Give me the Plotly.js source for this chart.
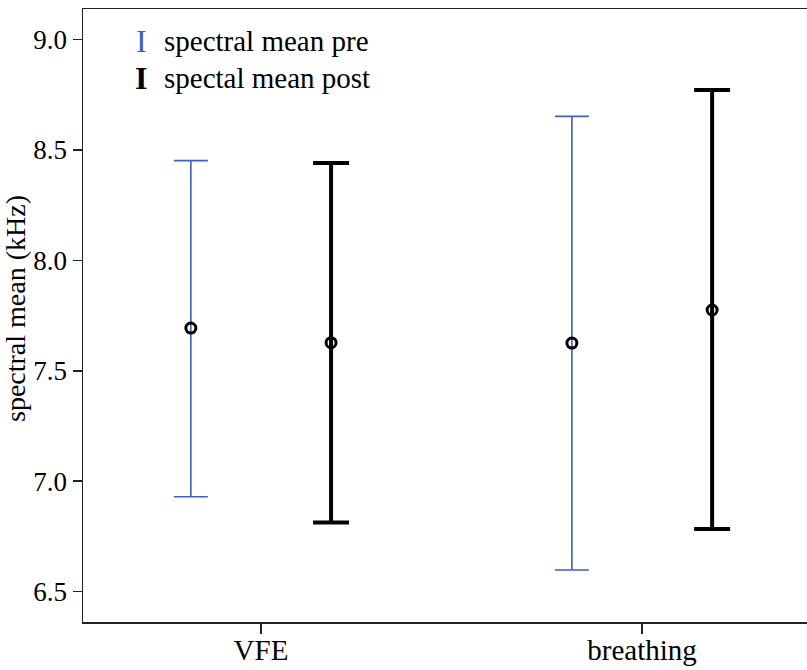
<!DOCTYPE html>
<html>
<head>
<meta charset="utf-8">
<script src="https://cdn.plot.ly/plotly-3.0.1.min.js"></script>
<style>html,body{margin:0;padding:0;background:#fff;}#chart{width:807px;height:670px;}</style>
</head>
<body>
<div id="chart"></div>
<script>
const categories = ["VFE", "breathing"];
const preMean  = [7.693, 7.625];
const preLow   = [6.930, 6.598];
const preHigh  = [8.451, 8.651];
const postMean = [7.627, 7.775];
const postLow  = [6.813, 6.784];
const postHigh = [8.440, 8.770];
const yTicks = [6.5, 7.0, 7.5, 8.0, 8.5, 9.0];
const seriesNames = ["spectral mean pre", "spectal mean post"];

const FONT = "'Liberation Serif', 'Times New Roman', Times, serif";
const BLUE = "#3f5fbf";

function up(m, h) { return h.map((v, i) => v - m[i]); }
function down(m, l) { return l.map((v, i) => m[i] - v); }

const traces = [
  {
    type: "scatter", mode: "markers", name: seriesNames[0], showlegend: false,
    x: categories, y: preMean, offsetgroup: "pre",
    marker: { symbol: "circle-open", size: 10, color: "#000", line: { width: 3, color: "#000" } },
    error_y: { type: "data", symmetric: false, array: up(preMean, preHigh), arrayminus: down(preMean, preLow),
               color: BLUE, thickness: 1.6, width: 17 }
  },
  {
    type: "scatter", mode: "markers", name: seriesNames[1], showlegend: false,
    x: categories, y: postMean, offsetgroup: "post",
    marker: { symbol: "circle-open", size: 10, color: "#000", line: { width: 3, color: "#000" } },
    error_y: { type: "data", symmetric: false, array: up(postMean, postHigh), arrayminus: down(postMean, postLow),
               color: "#000", thickness: 4, width: 18 }
  }
];

const layout = {
  width: 807, height: 670,
  margin: { l: 83, r: 0, t: 9, b: 48 },
  paper_bgcolor: "#fff", plot_bgcolor: "#fff",
  font: { family: FONT, color: "#000", size: 24 },
  showlegend: false,
  scattermode: "group",
  scattergap: 0.264,
  xaxis: {
    type: "category", range: [-0.467, 1.433],
    showline: true, linecolor: "#222", linewidth: 1.5, mirror: true,
    ticks: "outside", ticklen: 10, tickwidth: 1.5, tickcolor: "#222",
    ticklabelstandoff: -8,
    showgrid: false, zeroline: false,
    tickfont: { family: FONT, size: 29, color: "#000" }
  },
  yaxis: {
    range: [6.363, 9.137],
    tickvals: yTicks, tickformat: ".1f",
    showline: true, linecolor: "#222", linewidth: 1.5,
    ticks: "outside", ticklen: 9, tickwidth: 1.5, tickcolor: "#222",
    showgrid: false, zeroline: false,
    tickfont: { family: FONT, size: 27, color: "#000" },
    title: { text: "&nbsp;&nbsp;spectral mean (kHz)", font: { family: FONT, size: 28, color: "#000" } }
  },
  annotations: [
    { xref: "paper", yref: "paper", x: 0.0805, y: 0.947, xanchor: "center", yanchor: "middle",
      text: "I", showarrow: false, font: { family: FONT, size: 32, color: BLUE } },
    { xref: "paper", yref: "paper", x: 0.1085, y: 0.947, xanchor: "left", yanchor: "middle",
      text: seriesNames[0], showarrow: false, font: { family: FONT, size: 29, color: "#000" } },
    { xref: "paper", yref: "paper", x: 0.0805, y: 0.888, xanchor: "center", yanchor: "middle",
      text: "<b>I</b>", showarrow: false, font: { family: FONT, size: 32, color: "#000" } },
    { xref: "paper", yref: "paper", x: 0.1085, y: 0.888, xanchor: "left", yanchor: "middle",
      text: seriesNames[1], showarrow: false, font: { family: FONT, size: 29, color: "#000" } }
  ]
};

Plotly.newPlot("chart", traces, layout, { displayModeBar: false, staticPlot: true });
</script>
</body>
</html>
